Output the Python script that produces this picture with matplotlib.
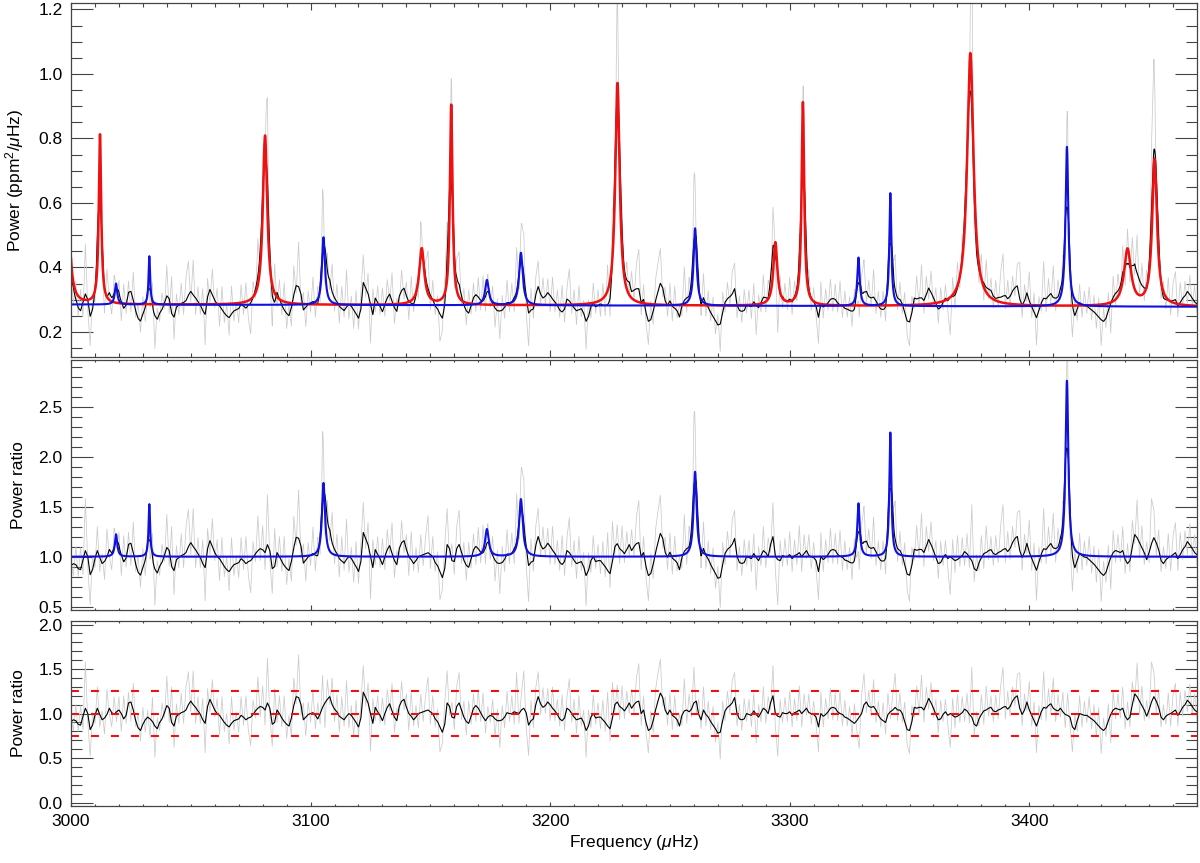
import numpy as np
import matplotlib
matplotlib.use("Agg")
import matplotlib.pyplot as plt
from matplotlib.ticker import MultipleLocator

plt.rcParams['font.family'] = ['Liberation Sans', 'DejaVu Sans']
plt.rcParams['mathtext.fontset'] = 'custom'
plt.rcParams['mathtext.rm'] = 'Liberation Sans'
plt.rcParams['mathtext.it'] = 'Liberation Sans:italic'

# ---------------- data ----------------
# background level (ppm^2/uHz) at the two ends of the range
bg_freq = [3000.0, 3470.0]
bg_level = [0.285, 0.278]

# "red" modes: centre (uHz), height above background, FWHM (uHz)
red_freq = [2998.3, 3012.1, 3081.0, 3146.4, 3158.7, 3228.1, 3294.0, 3305.5, 3375.4, 3441.0, 3452.3]
red_height = [0.55, 0.525, 0.525, 0.175, 0.62, 0.69, 0.195, 0.63, 0.785, 0.175, 0.455]
red_width = [2.0, 1.2, 2.2, 2.5, 1.3, 2.2, 2.0, 1.3, 3.2, 3.5, 2.4]

# "blue" modes
blue_freq = [3018.8, 3032.7, 3105.4, 3173.6, 3187.8, 3260.5, 3328.7, 3342.0, 3415.7]
blue_height = [0.065, 0.15, 0.21, 0.078, 0.163, 0.24, 0.15, 0.35, 0.495]
blue_width = [1.2, 0.8, 1.5, 1.8, 1.8, 1.5, 1.2, 1.0, 1.4]

# width of the running mean used for the black curves (uHz)
smooth_window = 2.2

# smoothed residual ratio (x100), one value per uHz from 3000 uHz
ratio_smooth = [
    91, 93, 92, 88, 87, 97, 106, 100, 82, 87,
    98, 106, 99, 93, 95, 99, 106, 101, 99, 102,
    104, 100, 94, 98, 112, 113, 104, 92, 84, 81,
    88, 93, 96, 94, 91, 86, 83, 90, 94, 101,
    109, 106, 90, 86, 97, 99, 101, 102, 104, 110,
    114, 110, 107, 103, 99, 93, 89, 108, 116, 110,
    104, 100, 98, 94, 90, 87, 85, 89, 92, 93,
    94, 98, 96, 93, 95, 96, 99, 103, 106, 108,
    107, 104, 112, 106, 88, 90, 104, 100, 95, 91,
    88, 86, 95, 109, 119, 118, 110, 93, 96, 99,
    100, 101, 98, 94, 100, 107, 112, 116, 119, 110,
    105, 102, 97, 95, 93, 97, 100, 98, 94, 90,
    85, 95, 124, 118, 112, 100, 89, 107, 102, 98,
    92, 100, 107, 111, 103, 96, 92, 108, 114, 116,
    107, 100, 97, 93, 96, 100, 101, 102, 103, 104,
    102, 100, 94, 91, 85, 79, 88, 112, 108, 96,
    95, 108, 112, 104, 96, 91, 89, 97, 106, 109,
    106, 101, 96, 92, 96, 98, 97, 94, 92, 92,
    93, 96, 101, 100, 100, 102, 101, 100, 104, 106,
    101, 87, 92, 94, 110, 119, 111, 107, 109, 113,
    110, 106, 103, 99, 94, 92, 95, 106, 104, 100,
    96, 93, 94, 95, 90, 81, 86, 96, 100, 95,
    96, 96, 93, 90, 86, 83, 95, 110, 113, 108,
    106, 103, 107, 112, 106, 110, 113, 114, 100, 104,
    90, 81, 83, 92, 104, 114, 123, 118, 104, 99,
    104, 98, 96, 93, 86, 98, 103, 104, 102, 105,
    112, 114, 99, 93, 104, 99, 96, 91, 87, 83,
    78, 79, 92, 103, 107, 109, 112, 118, 100, 94,
    93, 94, 100, 99, 98, 103, 99, 96, 101, 106,
    104, 100, 112, 120, 100, 97, 96, 101, 100, 100,
    102, 98, 101, 102, 104, 100, 103, 106, 101, 100,
    99, 96, 85, 100, 97, 99, 102, 106, 107, 106,
    102, 100, 99, 96, 95, 93, 91, 89, 92, 96,
    100, 110, 113, 108, 107, 108, 104, 98, 94, 92,
    90, 99, 102, 104, 107, 104, 104, 100, 91, 82,
    81, 91, 107, 106, 107, 107, 104, 110, 117, 112,
    106, 99, 93, 94, 99, 102, 98, 100, 98, 96,
    97, 99, 101, 105, 103, 99, 96, 88, 86, 94,
    99, 103, 104, 106, 107, 103, 102, 104, 105, 107,
    108, 105, 108, 114, 118, 120, 106, 99, 104, 113,
    104, 98, 92, 86, 94, 102, 107, 106, 109, 111,
    106, 104, 103, 106, 102, 99, 98, 96, 85, 82,
    92, 100, 99, 98, 98, 96, 94, 92, 89, 86,
    83, 81, 84, 92, 99, 104, 106, 105, 104, 106,
    97, 93, 96, 110, 122, 119, 114, 109, 104, 97,
    104, 113, 119, 114, 107, 96, 93, 97, 99, 100,
    102, 104, 98, 102, 107, 110, 115, 112, 108, 104,
    102,
]

# deviation of the raw ratio from the smoothed one (x100), same grid
raw_dev = [
    5, -12, 18, -8, 22, -15, 52, -10, -30, 14,
    -9, 24, -14, 10, -18, 28, -6, -16, 20, -11,
    15, -20, 26, -9, 12, -22, 30, -7, 16, -12,
    19, -14, 8, -21, 27, -35, 12, -9, 18, -6,
    33, -16, 40, -24, 14, -10, 22, -13, 26, 37,
    -12, 38, -18, 16, -10, 24, -33, 20, -14, 28,
    -8, 17, -22, 25, -10, 13, -19, 30, -11, 8,
    -15, 21, -9, 27, -13, -32, 16, -8, 35, -12,
    24, -17, 50, -9, -25, 38, -14, 20, -10, 29,
    -16, 12, -20, 31, -8, 48, -12, 19, -21, 14,
    -10, 26, -15, 18, -12, 36, -28, 22, -9, 30,
    -14, 19, -18, 24, -7, 40, -16, 11, -20, 25,
    -12, 17, 30, -10, 22, -42, 28, -15, 18, -9,
    26, -13, 20, -8, 31, -17, 14, -10, 22, -12,
    15, -19, 28, -7, 13, -16, 21, -11, 17, 37,
    -14, 20, -9, 14, -28, -12, 24, 36, -10, 17,
    -13, 22, 34, -11, 18, -15, 25, -9, 16, -18,
    21, -10, 27, -14, 12, -8, 19, -20, 13, -30,
    16, -12, 24, -9, 20, -14, 45, -11, 18, 42,
    -16, -34, 23, -10, 19, 28, -12, 22, -9, 15,
    -18, 24, -11, 17, -8, 29, -14, 12, 35, -10,
    20, -15, 26, -9, 14, -30, 18, -12, 21, -7,
    16, -13, 22, -10, 38, -14, 40, -8, 19, -15,
    25, -9, 18, -12, 21, -10, 27, 42, -13, 16,
    -11, -25, 20, -14, 23, 31, 38, -10, 15, -12,
    19, -16, 24, -8, 13, -11, 36, -15, 20, -9,
    40, -14, 17, -10, 26, -13, 18, -9, 21, -15,
    12, -30, 22, -11, 18, -9, 25, 28, -14, 16,
    -12, 23, -9, 17, -13, 20, -32, 14, -10, 24,
    -15, 19, -8, 34, -14, -45, 20, -11, 18, -9,
    23, -13, 16, -10, 27, -15, 19, -8, 21, -12,
    15, -9, -28, 24, -12, 18, -8, 22, -14, 17,
    -10, 26, -13, 19, -9, 15, -16, 22, -11, -35,
    21, 35, -12, 18, -10, 30, -14, 16, -9, 20,
    -13, 24, -8, 17, 38, -12, 19, -10, 22, -16,
    -26, 18, -11, 25, -9, 36, -14, 20, -12, 23,
    -10, 17, -15, 21, -8, 14, -11, -38, 19, -12,
    24, -9, 18, -14, 20, -10, 56, -13, 16, -8,
    22, -15, 27, -9, 13, -12, 19, -10, 25, 45,
    -14, 20, -11, 16, -9, 24, 40, -13, 18, -10,
    32, -12, 21, -30, 15, -9, 40, -14, 19, -11,
    34, -13, 18, -10, 22, -15, 25, -9, -28, 17,
    -12, 20, -14, 16, -8, 23, -11, 18, -15, 21,
    -28, 14, -10, 19, -32, 22, -12, 17, -9, 24,
    -14, 20, -11, 26, -9, 38, -15, 22, -12, 18,
    -10, 45, 28, -13, 20, -11, 17, -9, 24, -14,
    19, 30, -12, 22, -10, 16, -13, 21, -8, 18,
    -11,
]

threshold_lines = [0.75, 1.0, 1.25]

# ---------------- derived curves ----------------
f_data = 3000.0 + np.arange(len(ratio_smooth))
smooth = np.array(ratio_smooth) / 100.0
raw = smooth + np.array(raw_dev[:len(ratio_smooth)]) / 100.0

f = np.linspace(3000, 3470, 9401)
df = f[1] - f[0]
bg = np.interp(f, bg_freq, bg_level)


def lorentz_sum(freqs, heights, widths):
    out = np.zeros_like(f)
    for f0, h, w in zip(freqs, heights, widths):
        out += h / (1.0 + (2.0 * (f - f0) / w) ** 2)
    return out


def running_mean(y, window):
    n = max(1, int(round(window / df)))
    k = np.ones(n) / n
    pad = n
    yp = np.pad(y, pad, mode='edge')
    return np.convolve(yp, k, mode='same')[pad:-pad]


red_modes = lorentz_sum(red_freq, red_height, red_width)
blue_modes = lorentz_sum(blue_freq, blue_height, blue_width)
red_model = bg + red_modes
blue_model = bg + blue_modes
full_model = bg + red_modes + blue_modes
ratio_model = full_model / red_model

raw_f = np.interp(f, f_data, raw)
smooth_f = np.interp(f, f_data, smooth)

# ---------------- figure ----------------
W, H = 1200, 863
fig = plt.figure(figsize=(W / 100, H / 100), dpi=100)

left = 71 / W
width = 1126 / W
ax1 = fig.add_axes([left, 1 - 356.7 / H, width, 353.4 / H])
ax2 = fig.add_axes([left, 1 - 610 / H, width, 250 / H])
ax3 = fig.add_axes([left, 1 - 805.7 / H, width, 184.7 / H])

GREY = '#cbcbcb'
RED = '#ee1111'
BLUE = '#1010e0'
AXC = '#444444'

# top
ax1.plot(f, raw_f * full_model, color=GREY, lw=0.55)
ax1.plot(f, smooth_f * running_mean(full_model, smooth_window), color='black', lw=0.8)
ax1.plot(f, red_model, color=RED, lw=1.8)
ax1.plot(f, blue_model, color=BLUE, lw=1.5)
ax1.set_ylim(0.123, 1.219)
ax1.yaxis.set_major_locator(MultipleLocator(0.2))
ax1.yaxis.set_minor_locator(MultipleLocator(0.05))
ax1.set_ylabel(r'Power (ppm$^2$/$\mu$Hz)', fontsize=12.5, labelpad=6)

# middle
ax2.plot(f, raw_f * ratio_model, color=GREY, lw=0.55)
ax2.plot(f, smooth_f * running_mean(ratio_model, smooth_window), color='black', lw=0.8)
ax2.plot(f, ratio_model, color=BLUE, lw=1.5)
ax2.set_ylim(0.467, 2.967)
ax2.yaxis.set_major_locator(MultipleLocator(0.5))
ax2.yaxis.set_minor_locator(MultipleLocator(0.1))
ax2.set_ylabel('Power ratio', fontsize=12.5, labelpad=6)

# bottom
ax3.plot(f_data, raw, color=GREY, lw=0.55)
ax3.plot(f_data, smooth, color='black', lw=0.8)
for yv in threshold_lines:
    ax3.axhline(yv, color=RED, lw=1.5, dashes=(3.8, 5.8))
ax3.set_ylim(-0.035, 2.04)
ax3.yaxis.set_major_locator(MultipleLocator(0.5))
ax3.yaxis.set_minor_locator(MultipleLocator(0.1))
ax3.set_ylabel('Power ratio', fontsize=12.5, labelpad=6)
ax3.set_xlabel(r'Frequency ($\mu$Hz)', fontsize=12.5, labelpad=3)

panel_h = {ax1: 353.4, ax2: 250.0, ax3: 184.7}
for ax in (ax1, ax2, ax3):
    ax.set_xlim(3000, 3470)
    ax.xaxis.set_major_locator(MultipleLocator(100))
    ax.xaxis.set_minor_locator(MultipleLocator(10))
    for s in ax.spines.values():
        s.set_color(AXC)
        s.set_linewidth(0.9)
    xl = 0.02 * panel_h[ax] * 0.72
    ax.tick_params(axis='x', which='major', direction='in', length=xl, top=True, bottom=True,
                   color=AXC, width=0.8, labelsize=12.5, pad=6)
    ax.tick_params(axis='x', which='minor', direction='in', length=xl / 2, top=True, bottom=True,
                   color=AXC, width=0.8)
    ax.tick_params(axis='y', which='major', direction='in', length=16, left=True, right=True,
                   color=AXC, width=0.8, labelsize=12.5, pad=6)
    ax.tick_params(axis='y', which='minor', direction='in', length=8, left=True, right=True,
                   color=AXC, width=0.8)
    ax.yaxis.set_label_coords(-0.04, 0.5)

ax1.tick_params(axis='x', labelbottom=False)
ax2.tick_params(axis='x', labelbottom=False)

fig.savefig('out.png', dpi=100)
